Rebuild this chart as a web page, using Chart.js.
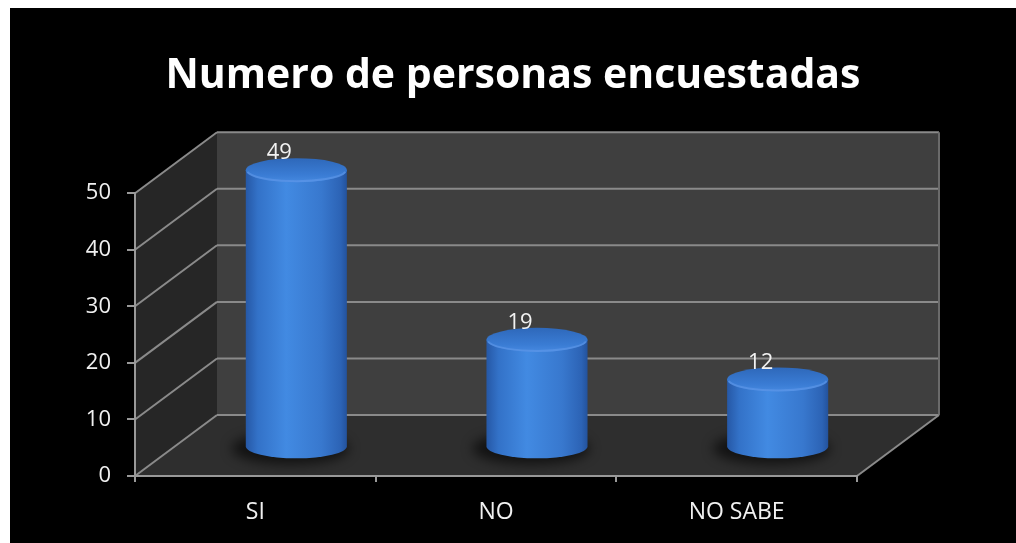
<!DOCTYPE html>
<html>
<head>
<meta charset="utf-8">
<script src="https://cdn.jsdelivr.net/npm/chart.js@4.4.1/dist/chart.umd.min.js"></script>
<style>
  html, body { margin: 0; padding: 0; background: #fff; }
  #marco { position: absolute; left: 10px; top: 8px; width: 1006px; height: 535px; background: #000; }
</style>
</head>
<body>
<div id="marco"><canvas id="encuesta" width="1006" height="535"></canvas></div>
<script>
const categorias = ['SI', 'NO', 'NO SABE']
const personas = [49, 19, 12]
const maxY = 50
const pasoY = 10

// desplazamiento de la profundidad de la caja 3D
const prof = { x: 82, y: -61 }
const fuente = "'Open Sans', 'Noto Sans', sans-serif"

const poligono = (ctx, pts, color) => {
    ctx.beginPath()
    ctx.moveTo(pts[0][0], pts[0][1])
    pts.slice(1).forEach(p => ctx.lineTo(p[0], p[1]))
    ctx.closePath()
    ctx.fillStyle = color
    ctx.fill()
}

const linea = (ctx, x1, y1, x2, y2) => {
    ctx.beginPath()
    ctx.moveTo(x1, y1)
    ctx.lineTo(x2, y2)
    ctx.stroke()
}

//Paredes y piso
const caja3d = {
    id: 'caja3d',
    beforeDraw(chart) {
        const { ctx, scales: { x, y } } = chart
        const L = x.left, R = x.right
        const y0 = y.getPixelForValue(0)
        const yT = y.getPixelForValue(maxY)
        const dx = prof.x, dy = prof.y

        ctx.save()
        ctx.fillStyle = '#000'
        ctx.fillRect(0, 0, chart.width, chart.height)

        poligono(ctx, [[L + dx, y0 + dy], [R + dx, y0 + dy], [R + dx, yT + dy], [L + dx, yT + dy]], '#3f3f3f')
        poligono(ctx, [[L, y0], [L + dx, y0 + dy], [L + dx, yT + dy], [L, yT]], '#262626')
        poligono(ctx, [[L, y0], [R, y0], [R + dx, y0 + dy], [L + dx, y0 + dy]], '#2e2e2e')

        ctx.strokeStyle = '#8a8a8a'
        ctx.lineWidth = 2
        for (let v = 0; v <= maxY; v += pasoY) {
            const py = y.getPixelForValue(v)
            linea(ctx, L + dx, py + dy, R + dx, py + dy)
            linea(ctx, L, py, L + dx, py + dy)
        }
        ctx.strokeStyle = '#6a6a6a'
        linea(ctx, R + dx, y0 + dy, R + dx, yT + dy)
        ctx.strokeStyle = '#8a8a8a'
        linea(ctx, R, y0, R + dx, y0 + dy)
        ctx.restore()
    }
}

const cilindro = (ctx, cx, top, base, rx, ry) => {
    // sombra en el piso
    ctx.save()
    ctx.filter = 'blur(6px)'
    ctx.fillStyle = 'rgba(0,0,0,0.6)'
    ctx.beginPath()
    ctx.ellipse(cx - 6, base + 2, rx + 8, ry + 4, 0, 0, Math.PI * 2)
    ctx.fill()
    ctx.restore()

    const g = ctx.createLinearGradient(cx - rx, 0, cx + rx, 0)
    g.addColorStop(0, '#2658a6')
    g.addColorStop(0.12, '#3372c8')
    g.addColorStop(0.4, '#428ae2')
    g.addColorStop(0.75, '#3878ce')
    g.addColorStop(0.94, '#2c63b5')
    g.addColorStop(1, '#23529c')

    ctx.beginPath()
    ctx.moveTo(cx - rx, top)
    ctx.lineTo(cx - rx, base)
    ctx.ellipse(cx, base, rx, ry, 0, Math.PI, 0, true)
    ctx.lineTo(cx + rx, top)
    ctx.closePath()
    ctx.fillStyle = g
    ctx.fill()

    const gt = ctx.createLinearGradient(0, top - ry, 0, top + ry)
    gt.addColorStop(0, '#2e68ba')
    gt.addColorStop(0.7, '#3a7cd4')
    gt.addColorStop(1, '#4689e0')
    ctx.beginPath()
    ctx.ellipse(cx, top, rx, ry, 0, 0, Math.PI * 2)
    ctx.fillStyle = gt
    ctx.fill()

    ctx.beginPath()
    ctx.ellipse(cx, top, rx - 1, ry - 1, 0, 0.15, Math.PI - 0.15)
    ctx.strokeStyle = 'rgba(100,155,235,0.55)'
    ctx.lineWidth = 2
    ctx.stroke()
}

//Cilindros y etiquetas de valor
const cilindros = {
    id: 'cilindros',
    afterDatasetsDraw(chart) {
        const { ctx } = chart
        const meta = chart.getDatasetMeta(0)
        ctx.save()
        meta.data.forEach((bar, i) => {
            const cx = bar.x + prof.x / 2
            const top = bar.y + prof.y * 0.47
            const base = bar.base + prof.y * 0.47
            cilindro(ctx, cx, top, base, bar.width / 2, 12)

            ctx.fillStyle = '#f2f2f2'
            ctx.font = '22px ' + fuente
            ctx.textAlign = 'center'
            ctx.textBaseline = 'middle'
            ctx.fillText(String(personas[i]), cx - 17, top - 17)
        })
        ctx.restore()
    }
}

const data = {
    labels: categorias,
    datasets: [
        {
            label: 'Personas',
            data: personas,
            backgroundColor: 'rgba(0,0,0,0)',
            borderWidth: 0,
            categoryPercentage: 1,
            barPercentage: 0.42
        }
    ]
}

const options = {
    responsive: false,
    animation: false,
    devicePixelRatio: 1,
    layout: { padding: 0 },
    plugins: {
        legend: { display: false },
        tooltip: { enabled: false },
        title: {
            display: true,
            text: 'Numero de personas encuestadas',
            color: '#ffffff',
            font: { family: fuente, size: 41, weight: 'bold' },
            padding: { top: 44, bottom: 92 }
        }
    },
    scales: {
        x: {
            afterFit: scale => { scale.height = 67 },
            grid: { drawOnChartArea: false, drawTicks: true, tickLength: 6, color: '#999', lineWidth: 2 },
            border: { color: '#999', width: 2 },
            ticks: { color: '#f0f0f0', font: { family: fuente, size: 23 }, padding: 17 }
        },
        y: {
            min: 0,
            max: maxY,
            afterFit: scale => { scale.width = 125 },
            grid: { drawOnChartArea: false, drawTicks: true, tickLength: 8, color: '#999', lineWidth: 2 },
            border: { color: '#999', width: 2 },
            ticks: { stepSize: pasoY, color: '#f0f0f0', font: { family: fuente, size: 22 }, padding: 16 }
        },
        // margen derecho vacío para la profundidad
        margen: {
            position: 'right',
            afterFit: scale => { scale.width = 159 },
            grid: { display: false },
            border: { display: false },
            ticks: { display: false }
        }
    }
}

new Chart('encuesta', { type: 'bar', data, options, plugins: [caja3d, cilindros] })
</script>
</body>
</html>
